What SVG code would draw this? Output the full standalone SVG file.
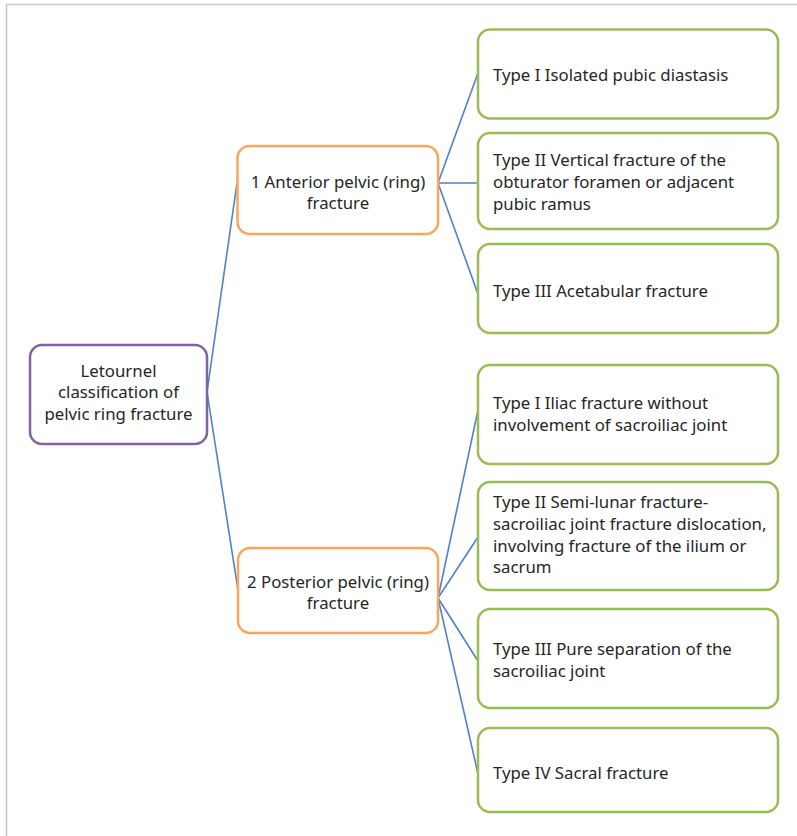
<svg xmlns="http://www.w3.org/2000/svg" width="797" height="836" viewBox="0 0 797 836">
  <style>
    .box { fill: #ffffff; stroke-width: 2.5; }
    .root { stroke: #8064a2; }
    .mid { stroke: #f9a75c; }
    .leaf { stroke: #9bbb59; }
    .link { stroke: #4f81c9; stroke-width: 1.6; fill: none; }
    text { font-family: "Noto Sans", "Open Sans", sans-serif; font-size: 16.8px; fill: #262626; }
    .c { text-anchor: middle; }
  </style>

  <!-- page frame -->
  <path d="M6.5 836 V4.5 H797" fill="none" stroke="#c8c8c8" stroke-width="1.5"/>

  <g id="connectors">
    <line class="link" x1="207" y1="392" x2="237" y2="183"/>
    <line class="link" x1="207" y1="392" x2="238" y2="590"/>
    <line class="link" x1="438" y1="183" x2="478" y2="73"/>
    <line class="link" x1="438" y1="183" x2="478" y2="183"/>
    <line class="link" x1="438" y1="183" x2="478" y2="294"/>
    <line class="link" x1="438" y1="598" x2="478" y2="410"/>
    <line class="link" x1="438" y1="598" x2="478" y2="537"/>
    <line class="link" x1="438" y1="598" x2="478" y2="661"/>
    <line class="link" x1="438" y1="598" x2="478" y2="774"/>
  </g>

  <g id="root">
    <rect class="box root" x="30" y="345" width="177" height="99" rx="12"/>
    <text class="c" x="118.5" y="376.5">Letournel</text>
    <text class="c" x="118.5" y="398">classification of</text>
    <text class="c" x="118.5" y="419.5">pelvic ring fracture</text>
  </g>

  <g id="anterior">
    <rect class="box mid" x="237.5" y="146" width="200.5" height="88" rx="12"/>
    <text class="c" x="338" y="187.5">1 Anterior pelvic (ring)</text>
    <text class="c" x="338" y="209">fracture</text>
  </g>

  <g id="posterior">
    <rect class="box mid" x="238" y="548" width="200" height="85" rx="12"/>
    <text class="c" x="338" y="587.5">2 Posterior pelvic (ring)</text>
    <text class="c" x="338" y="609">fracture</text>
  </g>

  <g id="anterior-type1">
    <rect class="box leaf" x="478" y="29.5" width="300" height="89" rx="12"/>
    <text x="493" y="81">Type I Isolated pubic diastasis</text>
  </g>

  <g id="anterior-type2">
    <rect class="box leaf" x="478" y="133" width="300" height="96" rx="12"/>
    <text x="493" y="166">Type II Vertical fracture of the</text>
    <text x="493" y="188">obturator foramen or adjacent</text>
    <text x="493" y="210">pubic ramus</text>
  </g>

  <g id="anterior-type3">
    <rect class="box leaf" x="478" y="244" width="300" height="89" rx="12"/>
    <text x="493" y="297">Type III Acetabular fracture</text>
  </g>

  <g id="posterior-type1">
    <rect class="box leaf" x="478" y="365" width="300" height="99" rx="12"/>
    <text x="493" y="409">Type I Iliac fracture without</text>
    <text x="493" y="431">involvement of sacroiliac joint</text>
  </g>

  <g id="posterior-type2">
    <rect class="box leaf" x="478" y="482" width="300" height="108" rx="12"/>
    <text x="493" y="508">Type II Semi-lunar fracture-</text>
    <text x="493" y="530">sacroiliac joint fracture dislocation,</text>
    <text x="493" y="551.5">involving fracture of the ilium or</text>
    <text x="493" y="573">sacrum</text>
  </g>

  <g id="posterior-type3">
    <rect class="box leaf" x="478" y="609" width="300" height="99" rx="12"/>
    <text x="493" y="655">Type III Pure separation of the</text>
    <text x="493" y="677">sacroiliac joint</text>
  </g>

  <g id="posterior-type4">
    <rect class="box leaf" x="478" y="728" width="300" height="84" rx="12"/>
    <text x="493" y="779">Type IV Sacral fracture</text>
  </g>
</svg>
